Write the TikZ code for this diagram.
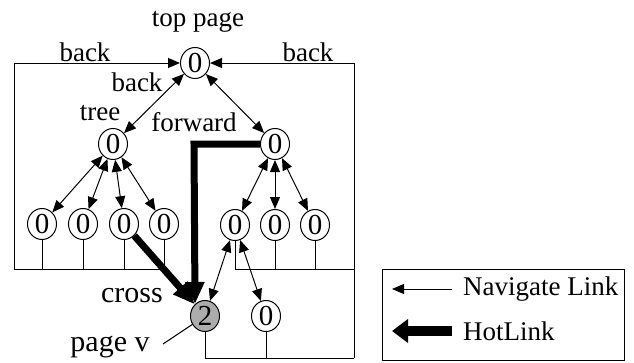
\documentclass[tikz,border=0pt]{standalone}
\usepackage{fontspec}
\setmainfont{Liberation Serif}
\usetikzlibrary{arrows.meta,shapes.geometric}
\tikzset{
  pg/.style={draw, ellipse, line width=1pt, inner sep=0pt, minimum width=29pt, minimum height=31pt, fill=white, font=\fontsize{29}{30}\selectfont},
  lbl/.style={inner sep=0pt},
  biglbl/.style={inner sep=0pt, font=\fontsize{30}{32}\selectfont},
  thin/.style={line width=1pt},
  navtwo/.style={thin, {Triangle[length=12pt,width=10pt]}-{Triangle[length=12pt,width=10pt]}},
  navone/.style={thin, -{Triangle[length=12pt,width=10pt]}},
  hot/.style={line width=7pt, -{Triangle[length=22pt,width=18pt]}},
}
\begin{document}
\begin{tikzpicture}[x=1pt,y=-1pt, font=\fontsize{27}{30}\selectfont]
\useasboundingbox (0,0) rectangle (634,362);
% nodes
\node[pg] (top) at (195,63) {0};
\node[pg] (tree) at (113,144) {0};
\node[pg] (rmid) at (275,144) {0};
\node[pg] (l1) at (42,224) {0};
\node[pg] (l2) at (83,224) {0};
\node[pg] (l3) at (124,224) {0};
\node[pg] (l4) at (164,224) {0};
\node[pg] (r1) at (235,225) {0};
\node[pg] (r2) at (275,225) {0};
\node[pg] (r3) at (315,225) {0};
\node[pg, fill=gray!65] (p2) at (205,316) {2};
\node[pg] (b0) at (266,316) {0};
% labels
\node[lbl] (ttop) at (198,22) {top page};
\node[lbl] (tbackl) at (85,52) {back};
\node[lbl] (tbackr) at (308,52) {back};
\node[lbl] (tbackm) at (137,82) {back};
\node[lbl] (ttree) at (100,113) {tree};
\node[lbl] (tfwd) at (194,122) {forward};
\node[biglbl] (tcross) at (132,296) {cross};
\node[biglbl] (tpv) at (110,347) {page v};
% coordinates
\coordinate (lc) at (14,269);
\coordinate (rc) at (354,358);
\coordinate (rm) at (354,269);
\coordinate (fc) at (194,144);
\coordinate (fe) at (195,304);
\coordinate (pvc) at (163,344);
% back links
\draw[navone] (lc) |- (top);
\draw[navone] (rc) |- (top);
% left bottom frame
\draw[thin] (lc) -- (l4 |- lc);
\foreach \n in {l1,l2,l3,l4} \draw[thin] (\n.south) -- (\n |- lc);
% right frames
\draw[thin] (r1.south) |- (rm);
\draw[thin] (r2.south) -- (r2 |- rm);
\draw[thin] (r3.south) -- (r3 |- rm);
\draw[thin] (p2.south) |- (rc);
\draw[thin] (b0.south) -- (b0 |- rc);
% navigate links
\draw[navtwo] (top) -- (tree);
\draw[navtwo] (top) -- (rmid);
\foreach \n in {l1,l2,l3,l4} \draw[navtwo] (tree) -- (\n);
\foreach \n in {r1,r2,r3} \draw[navtwo] (rmid) -- (\n);
\draw[navtwo] (r1) -- (p2);
\draw[navtwo] (r1) -- (b0);
% hot links
\draw[hot] (rmid.west) -- (fc) -- (fe);
\draw[hot] (l3) -- (p2);
% page v pointer
\draw[thin] (pvc) -- (p2);
% legend
\node[draw, thin, minimum width=242pt, minimum height=91pt, inner sep=0pt] (leg) at (503,314.5) {};
\coordinate (n1) at (452,289);
\coordinate (n2) at (392,289);
\coordinate (h1) at (452,331);
\coordinate (h2) at (392,331);
\draw[navone] (n1) -- (n2);
\draw[line width=10pt, -{Triangle[length=16pt,width=23pt]}] (h1) -- (h2);
\node[lbl, anchor=west] (tnav) at (463,289) {Navigate Link};
\node[lbl, anchor=west] (thot) at (463,331) {HotLink};
\end{tikzpicture}
\end{document}
